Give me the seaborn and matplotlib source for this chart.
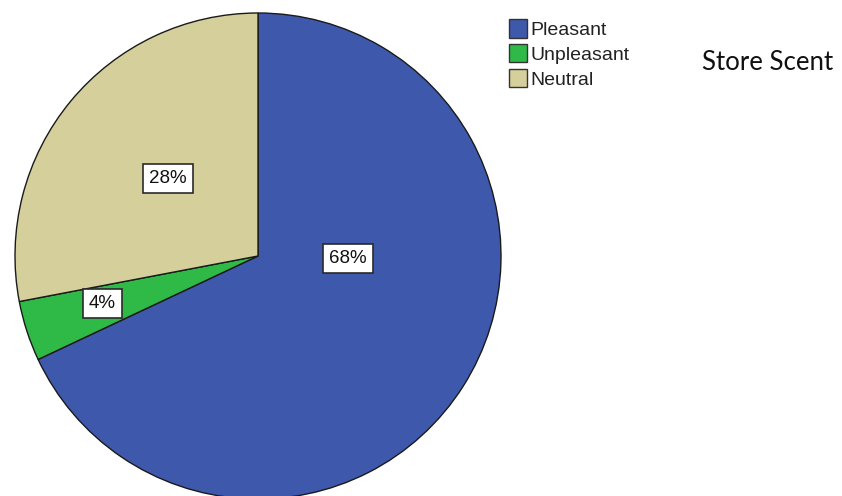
import matplotlib
matplotlib.use("Agg")
import matplotlib.pyplot as plt
import numpy as np
import seaborn as sns
from matplotlib.patches import Patch

# data
categories = ["Pleasant", "Unpleasant", "Neutral"]
shares = [68, 4, 28]
pct_labels = ["68%", "4%", "28%"]
colors = ["#3e58ac", "#2fba48", "#d5cf9b"]
title = "Store Scent"

# label placement (x, y in pie-radius units), SPSS-style
label_pos = [(0.37, -0.01), (-0.64, -0.195), (-0.37, 0.32)]

sns.set_theme(style="white")
plt.rcParams["font.family"] = ["Liberation Sans", "DejaVu Sans"]

fig = plt.figure(figsize=(8.42, 4.96), dpi=100)
cx, cy, r = 258, 256, 243
ax = fig.add_axes([(cx - r) / 842, (496 - cy - r) / 496, 2 * r / 842, 2 * r / 496])

wedges, _ = ax.pie(
    shares,
    colors=colors,
    startangle=90,
    counterclock=False,
    radius=1,
    wedgeprops={"edgecolor": "#1a1a1a", "linewidth": 1.0},
)
ax.set_xlim(-1, 1)
ax.set_ylim(-1, 1)
ax.set_aspect("auto")
ax.axis("off")

for (x, y), txt in zip(label_pos, pct_labels):
    ax.text(
        x, y, txt, ha="center", va="center", fontsize=13.5, color="#111111",
        bbox={"boxstyle": "square,pad=0.32", "facecolor": "white",
              "edgecolor": "#2a2a2a", "linewidth": 1.2},
    )

handles = [Patch(facecolor=c, edgecolor="#333333", linewidth=1.0) for c in colors]
fig.legend(
    handles, categories, loc="upper left", bbox_to_anchor=(509 / 842, 1 - 19 / 496),
    frameon=False, fontsize=14, handlelength=0.95, handleheight=1.1,
    handletextpad=0.15, labelspacing=0.25, borderaxespad=0, borderpad=0,
    labelcolor="#222222",
)

fig.text(702 / 842, 1 - 62 / 496, title, fontsize=18.5, va="center", ha="left",
         family=["Lato", "DejaVu Sans"], color="#111111")

fig.savefig("out.png", dpi=100)
